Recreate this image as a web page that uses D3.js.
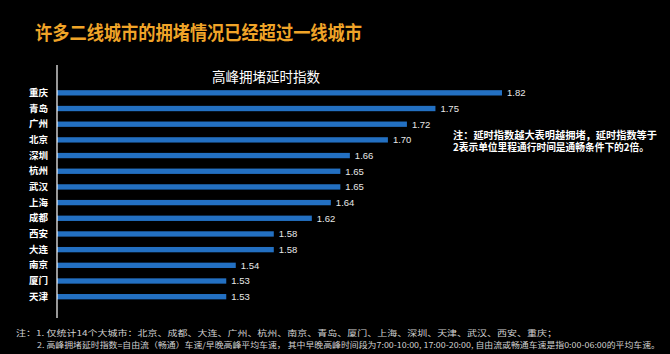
<!DOCTYPE html>
<html lang="zh">
<head>
<meta charset="UTF-8">
<title>高峰拥堵延时指数</title>
<script src="https://d3js.org/d3.v7.min.js"></script>
<style>
  html, body { margin: 0; padding: 0; background: #000; }
  svg { display: block; font-family: "Noto Sans CJK SC", "Noto Sans", sans-serif; }
</style>
</head>
<body>
<div id="chart"></div>
<script>
// data
const cities = ["重庆", "青岛", "广州", "北京", "深圳", "杭州", "武汉", "上海", "成都", "西安", "大连", "南京", "厦门", "天津"];
const delayIndex = [1.82, 1.75, 1.72, 1.70, 1.66, 1.65, 1.65, 1.64, 1.62, 1.58, 1.58, 1.54, 1.53, 1.53];
const valueLabels = ["1.82", "1.75", "1.72", "1.70", "1.66", "1.65", "1.65", "1.64", "1.62", "1.58", "1.58", "1.54", "1.53", "1.53"];

const pageTitle = "许多二线城市的拥堵情况已经超过一线城市";
const chartTitle = "高峰拥堵延时指数";
const sideNote = ["注：延时指数越大表明越拥堵，延时指数等于", "2表示单位里程通行时间是通畅条件下的2倍。"];
const footNotes = [
  "注：1. 仅统计14个大城市：北京、成都、大连、广州、杭州、南京、青岛、厦门、上海、深圳、天津、武汉、西安、重庆；",
  "2. 高峰拥堵延时指数=自由流（畅通）车速/早晚高峰平均车速，  其中早晚高峰时间段为7:00-10:00, 17:00-20:00, 自由流或畅通车速是指0:00-06:00的平均车速。"
];

const width = 670, height = 354;
const svg = d3.select("#chart").append("svg")
  .attr("width", width)
  .attr("height", height);

svg.append("rect").attr("width", width).attr("height", height).attr("fill", "#000");

// page title
svg.append("text")
  .attr("x", 35).attr("y", 40)
  .attr("fill", "#f0a428")
  .attr("font-size", 19)
  .attr("font-weight", "bold")
  .attr("textLength", 327)
  .attr("lengthAdjust", "spacingAndGlyphs")
  .text(pageTitle);

// chart title
svg.append("text")
  .attr("x", 266).attr("y", 82)
  .attr("text-anchor", "middle")
  .attr("fill", "#fff")
  .attr("font-size", 13.5)
  .text(chartTitle);

// scales
const x = d3.scaleLinear()
  .domain([1.352, 1.82])
  .range([57, 502]);

const y = d3.scaleBand()
  .domain(cities)
  .range([85, 85 + 15.68 * cities.length])
  .paddingInner(0.66)
  .paddingOuter(0.33);

// bars
svg.append("g").selectAll("rect")
  .data(delayIndex)
  .join("rect")
  .attr("x", x(x.domain()[0]))
  .attr("y", (d, i) => y(cities[i]))
  .attr("width", d => x(d) - x(x.domain()[0]))
  .attr("height", y.bandwidth())
  .attr("fill", "#2370c2");

// value labels
svg.append("g").selectAll("text")
  .data(delayIndex)
  .join("text")
  .attr("x", d => x(d) + 5)
  .attr("y", (d, i) => y(cities[i]) + y.bandwidth() / 2)
  .attr("dy", "0.35em")
  .attr("fill", "#e8e8e8")
  .attr("font-size", 9.5)
  .attr("font-family", "Liberation Sans, Arial, sans-serif")
  .text((d, i) => valueLabels[i]);

// y axis (category labels, white line)
const yAxis = svg.append("g")
  .attr("transform", "translate(57,0)")
  .call(d3.axisLeft(y).tickSize(0).tickPadding(9));
yAxis.select(".domain").attr("stroke", "#fff").attr("stroke-width", 1.2)
  .attr("d", "M0,65V318");
yAxis.selectAll("text")
  .attr("fill", "#fff")
  .attr("font-size", 9.5)
  .attr("font-weight", "bold")
  .attr("font-family", "Noto Sans CJK SC, sans-serif");

// side note
svg.append("g").selectAll("text")
  .data(sideNote)
  .join("text")
  .attr("x", 453)
  .attr("y", (d, i) => 139 + i * 12)
  .attr("fill", "#fff")
  .attr("font-size", 10)
  .attr("font-weight", "bold")
  .attr("textLength", (d, i) => i === 0 ? 204 : 196)
  .attr("lengthAdjust", "spacingAndGlyphs")
  .text(d => d);

// footnotes
svg.append("g").selectAll("text")
  .data(footNotes)
  .join("text")
  .attr("x", (d, i) => i === 0 ? 16 : 37)
  .attr("y", (d, i) => 336 + i * 12)
  .attr("fill", "#d0d0d0")
  .attr("font-size", 8)
  .attr("textLength", (d, i) => i === 0 ? 541 : 623)
  .attr("lengthAdjust", "spacingAndGlyphs")
  .text(d => d);
</script>
</body>
</html>
